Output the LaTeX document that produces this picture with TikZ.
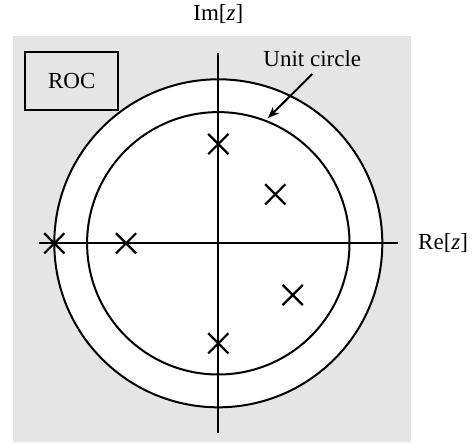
\documentclass[tikz,border=0pt]{standalone}
\usepackage{fontspec}
\setmainfont{Liberation Serif}
\usetikzlibrary{arrows.meta,shapes.misc}
\begin{document}
\begin{tikzpicture}[x=1pt,y=-1pt,
  lbl/.style={font=\fontsize{23}{26}\selectfont, inner sep=0pt},
  pole/.style={cross out, draw, line width=2.2pt, minimum size=18pt, inner sep=0pt},
  axis/.style={line width=1.8pt},
  ring/.style={line width=2pt}]
\useasboundingbox (0,0) rectangle (473,442);
\fill[black!10] (13,36) rectangle (411,442);
\coordinate (o) at (218.3,243.3);
\filldraw[ring, fill=white] (o) circle (164);
\draw[ring] (o) circle (131.2);
\coordinate (xl) at (39.3,243.3);
\coordinate (xr) at (397.7,243.3);
\coordinate (yt) at (218.3,53.3);
\coordinate (yb) at (218.3,433.3);
\draw[axis] (xl) -- (xr);
\draw[axis] (yt) -- (yb);
\node[lbl] (im) at (218.3,14) {Im[\textit{z}]};
\node[lbl, anchor=west] (re) at (418,243.3) {Re[\textit{z}]};
\node[draw, line width=1.8pt, minimum width=93pt, minimum height=58.5pt, inner sep=0pt,
  font=\fontsize{23}{26}\selectfont] (roc) at (71.8,81) {ROC};
\node[lbl] (ucl) at (312.3,59) {Unit circle};
\coordinate (as) at (312.3,74);
\coordinate (ae) at (267.7,118.3);
\draw[line width=2pt, -{Stealth[length=12pt,width=9pt]}] (as) -- (ae);
\node[pole] (p1) at (218.3,144) {};
\node[pole] (p2) at (275.3,194.3) {};
\node[pole] (p3) at (54.3,243.3) {};
\node[pole] (p4) at (126,243.3) {};
\node[pole] (p5) at (292.7,295) {};
\node[pole] (p6) at (218.3,343.3) {};
\end{tikzpicture}
\end{document}
